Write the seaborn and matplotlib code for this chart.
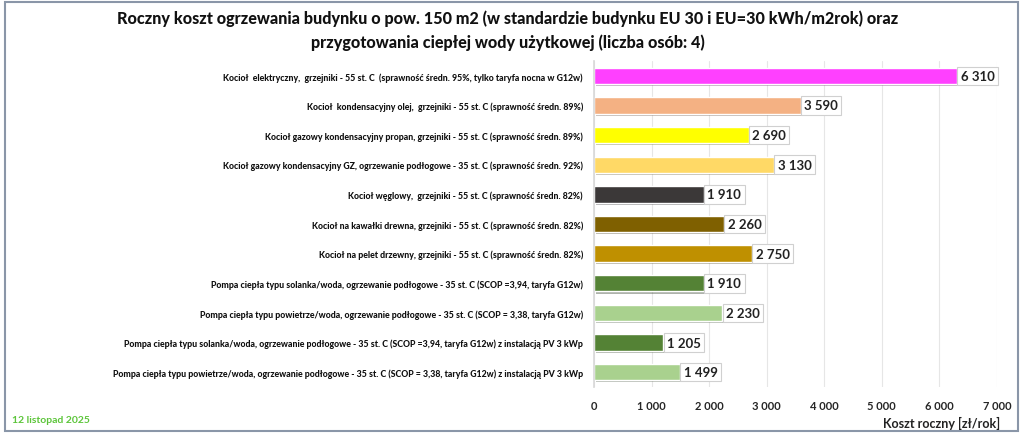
import matplotlib
matplotlib.use("Agg")
import matplotlib.pyplot as plt
import matplotlib.patheffects as pe
from matplotlib.patches import Rectangle
import pandas as pd
import seaborn as sns

categories = [
    "Kocioł  elektryczny,  grzejniki - 55 st. C  (sprawność średn. 95%, tylko taryfa nocna w G12w)",
    "Kocioł  kondensacyjny olej,  grzejniki - 55 st. C (sprawność średn. 89%)",
    "Kocioł gazowy kondensacyjny propan, grzejniki - 55 st. C (sprawność średn. 89%)",
    "Kocioł gazowy kondensacyjny GZ, ogrzewanie podłogowe - 35 st. C (sprawność średn. 92%)",
    "Kocioł węglowy,  grzejniki - 55 st. C (sprawność średn. 82%)",
    "Kocioł na kawałki drewna, grzejniki - 55 st. C (sprawność średn. 82%)",
    "Kocioł na pelet drzewny, grzejniki - 55 st. C (sprawność średn. 82%)",
    "Pompa ciepła typu solanka/woda, ogrzewanie podłogowe - 35 st. C (SCOP =3,94, taryfa G12w)",
    "Pompa ciepła typu powietrze/woda, ogrzewanie podłogowe - 35 st. C (SCOP = 3,38, taryfa G12w)",
    "Pompa ciepła typu solanka/woda, ogrzewanie podłogowe - 35 st. C (SCOP =3,94, taryfa G12w) z instalacją PV 3 kWp",
    "Pompa ciepła typu powietrze/woda, ogrzewanie podłogowe - 35 st. C (SCOP = 3,38, taryfa G12w) z instalacją PV 3 kWp",
]
costs = [6310, 3590, 2690, 3130, 1910, 2260, 2750, 1910, 2230, 1205, 1499]
colours = ["#FF40FF", "#F4B183", "#FFFF00", "#FFD966", "#3B3838", "#7F6000",
           "#BF9000", "#548235", "#A9D18E", "#548235", "#A9D18E"]
x_ticks = [0, 1000, 2000, 3000, 4000, 5000, 6000, 7000]

title = ("Roczny koszt ogrzewania budynku o pow. 150 m2 (w standardzie budynku EU 30 i EU=30 kWh/m2rok) oraz\n"
         "przygotowania ciepłej wody użytkowej (liczba osób: 4)")
x_label = "Koszt roczny [zł/rok]"
date_text = "12 listopad 2025"


def fmt(v):
    return f"{v:,}".replace(",", " ")


sns.set_theme(style="white")
plt.rcParams["font.family"] = ["Lato", "DejaVu Sans"]

df = pd.DataFrame({"kategoria": categories, "koszt": costs})

fig = plt.figure(figsize=(10.24, 4.35), dpi=100)
ax = fig.add_axes([594 / 1024, 1 - 388 / 435, (997 - 594) / 1024, (388 - 62) / 435])

sns.barplot(data=df, x="koszt", y="kategoria", hue="kategoria",
            palette=colours, legend=False, width=0.55, ax=ax, saturation=1)

for patch in ax.patches:
    patch.set_path_effects([pe.SimplePatchShadow(offset=(1.5, -1.5), alpha=0.35),
                            pe.Normal()])

for i, v in enumerate(costs):
    ax.text(v + 60, i, fmt(v), va="center", ha="left", fontsize=9.5,
            fontweight="bold", color="#222222",
            bbox=dict(boxstyle="square,pad=0.25", fc="white", ec="#d0d0d0", lw=0.8))

ax.set_xlim(0, 7000)
ax.set_ylim(len(categories) - 0.5, -0.5)
ax.set_xticks(x_ticks)
ax.set_xticklabels([fmt(t) for t in x_ticks], fontsize=8, fontweight="bold")
ax.set_yticks(range(len(categories)))
ax.set_yticklabels(categories, fontsize=6.3, fontweight="black", color="#111111")
ax.tick_params(axis="y", length=0, pad=8)
ax.tick_params(axis="x", length=0, pad=9)
ax.xaxis.grid(True, color="#e6e6e6", lw=0.8)
ax.set_axisbelow(True)
for s in ["top", "right", "bottom"]:
    ax.spines[s].set_visible(False)
ax.spines["left"].set_color("#d9d9d9")
ax.set_ylabel("")
ax.set_xlabel("")

fig.text(1000 / 1024, 1 - 423 / 435, x_label, ha="right", va="center",
         fontsize=9, fontweight="bold", color="#222222")
fig.text(508 / 1024, 1 - 31 / 435, title, ha="center", va="center",
         fontsize=11.6, fontweight="black", linespacing=1.55, color="#111111")
fig.text(12 / 1024, 1 - 421 / 435, date_text, ha="left", va="center",
         fontsize=7.5, fontweight="bold", color="#5CC53A")

fig.patches.append(Rectangle((5 / 1024, 3 / 435), 1013 / 1024, 429 / 435,
                             transform=fig.transFigure, fill=False,
                             ec="#8a96a8", lw=1.5))

fig.savefig("out.png", dpi=100)
